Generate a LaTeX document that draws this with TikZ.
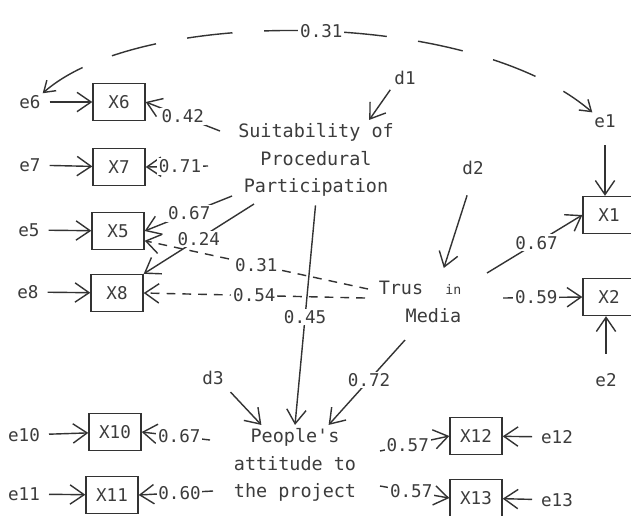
\documentclass[tikz,border=0pt]{standalone}
\usepackage{fontspec}
\setmonofont{DejaVu Sans Mono}
\usepackage{xcolor}
\usepackage{tikz}
\usetikzlibrary{arrows.meta}
\definecolor{SEMInk}{HTML}{333333}
\definecolor{SEMText}{HTML}{3C3C3C}
\tikzset{
  obsbox/.style={draw=SEMInk,line width=.8pt,minimum width=10.4mm,minimum height=7.4mm,inner sep=0pt,text=SEMText,font=\ttfamily\fontsize{10}{12}\selectfont},
  latent/.style={align=center,inner sep=2pt,text=SEMText,font=\ttfamily\fontsize{10.5}{15.5}\selectfont},
  errlbl/.style={inner sep=1pt,text=SEMText,font=\ttfamily\fontsize{10}{12}\selectfont},
  coef/.style={fill=white,inner sep=1pt,text=SEMText,font=\ttfamily\fontsize{10}{12}\selectfont},
  loading/.style={draw=SEMInk,line width=.8pt,-{Straight Barb[length=8pt,width=11pt]}},
  crossload/.style={loading,dash pattern=on 5pt off 4pt},
  errarrow/.style={loading,shorten <=4pt},
  covarc/.style={draw=SEMInk,line width=.8pt,dash pattern=on 26pt off 18pt,{Straight Barb[length=6pt,width=8pt]}-{Straight Barb[length=6pt,width=8pt]}}
}
\begin{document}
\begin{tikzpicture}[x=.02cm,y=-.02cm]
\path[use as bounding box] (0,0) rectangle (631,515);
\fill[white] (0,0) rectangle (631,515);

\node[obsbox] (x6) at (119,102) {X6};
\node[obsbox] (x7) at (119,167) {X7};
\node[obsbox] (x5) at (118,231) {X5};
\node[obsbox] (x8) at (117,293) {X8};
\node[obsbox] (x1) at (609,215) {X1};
\node[obsbox] (x2) at (609,297) {X2};
\node[obsbox] (x10) at (115,432) {X10};
\node[obsbox] (x11) at (112,495) {X11};
\node[obsbox] (x12) at (476,436) {X12};
\node[obsbox] (x13) at (476,498) {X13};

\node[errlbl] (e6) at (30,102) {e6};
\node[errlbl] (e7) at (30,165) {e7};
\node[errlbl] (e5) at (29,230) {e5};
\node[errlbl] (e8) at (28,292) {e8};
\node[errlbl] (e1) at (605,121) {e1};
\node[errlbl] (e2) at (606,380) {e2};
\node[errlbl] (e10) at (24,435) {e10};
\node[errlbl] (e11) at (24,494) {e11};
\node[errlbl] (e12) at (557,437) {e12};
\node[errlbl] (e13) at (557,500) {e13};
\node[errlbl] (d1) at (405,78) {d1};
\node[errlbl] (d2) at (473,168) {d2};
\node[errlbl] (d3) at (213,378) {d3};

\node[latent] (suit) at (316,160) {Suitability of\\Procedural\\Participation};
\node[latent,align=right,inner ysep=7.5pt] (trust) at (420,302) {Trus\ \ {\fontsize{7.5}{9}\selectfont in}\\Media};
\node[latent] (att) at (295,465) {People's\\attitude to\\the project};

\coordinate (s6) at (220,131);
\coordinate (s7) at (208,166);
\coordinate (s5) at (232,196);
\coordinate (s8) at (254,204);
\coordinate (t5) at (368,289);
\coordinate (t8) at (365,298);
\coordinate (t1) at (487,273);
\coordinate (t2) at (503,298);
\coordinate (ta) at (405,340);
\coordinate (a10) at (210,440);
\coordinate (a11) at (213,491);
\coordinate (a12) at (380,451);
\coordinate (a13) at (380,486);

\draw[covarc] (e6.north east) .. controls (140,7) and (470,7) .. node[coef,pos=.52]{0.31} (e1.north west);

\draw[errarrow] (e6) -- (x6);
\draw[errarrow] (e7) -- (x7);
\draw[errarrow] (e5) -- (x5);
\draw[errarrow] (e8) -- (x8);
\draw[errarrow] (e10) -- (x10);
\draw[errarrow] (e11) -- (x11);
\draw[errarrow] (e12) -- (x12);
\draw[errarrow] (e13) -- (x13);
\draw[loading,shorten <=9pt] (e1.south) -- (e1.south |- x1.north);
\draw[loading,shorten <=10pt] (e2.north) -- (e2.north |- x2.south);

\draw[loading,shorten <=2pt] (d1.south west) -- (suit.37);
\draw[loading,shorten <=11pt] (d2.south) -- (trust.55);
\draw[loading,shorten <=4pt] (d3.south east) -- (att.130);

\draw[loading] (s6) -- node[coef,pos=.5]{0.42} (x6.east);
\draw[loading] (s7) -- node[coef,pos=.45]{0.71} (x7.east);
\draw[loading] (s5) -- node[coef,pos=.49]{0.67} (x5.east);
\draw[loading] (s8) -- node[coef,pos=.5]{0.24} (x8.north east);
\draw[crossload] (t5) -- node[coef,pos=.5]{0.31} (x5.-20);
\draw[crossload] (t8) -- node[coef,pos=.5]{0.54} (x8.east);
\draw[loading] (t1) -- node[coef,pos=.52]{0.67} (x1.west);
\draw[loading] (t2) -- node[coef,pos=.42]{0.59} (x2.west);
\draw[loading,shorten <=3pt] (suit.south) -- node[coef,pos=.52]{0.45} (att.north);
\draw[loading] (ta) -- node[coef,pos=.47]{0.72} (att.50);
\draw[loading] (a10) -- node[coef,pos=.45]{0.67} (x10.east);
\draw[loading] (a11) -- node[coef,pos=.45]{0.60} (x11.east);
\draw[loading] (a12) -- node[coef,pos=.4]{0.57} (x12.west);
\draw[loading] (a13) -- node[coef,pos=.45]{0.57} (x13.west);
\end{tikzpicture}
\end{document}
